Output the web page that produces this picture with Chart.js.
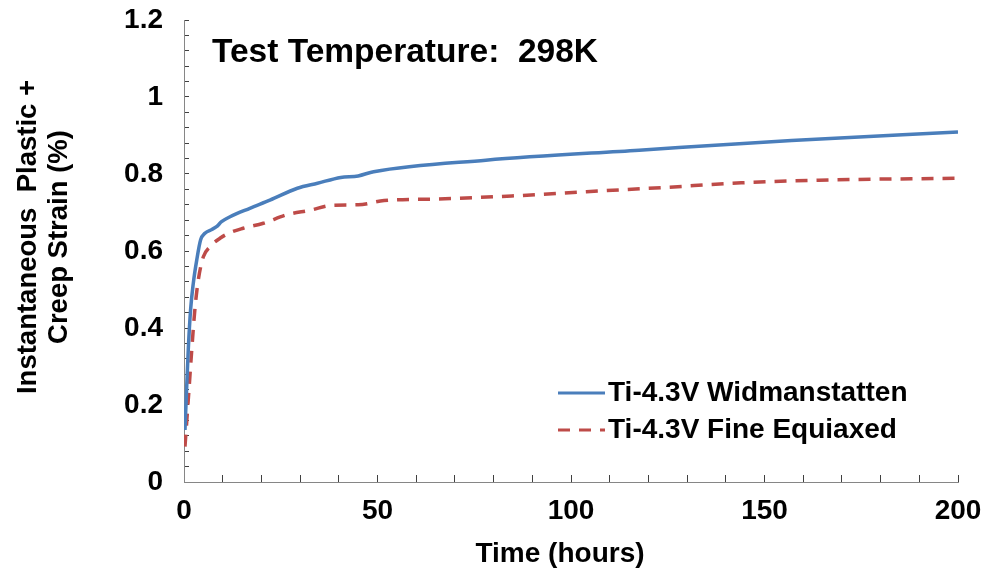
<!DOCTYPE html>
<html>
<head>
<meta charset="utf-8">
<script src="https://cdn.jsdelivr.net/npm/chart.js@4.4.1/dist/chart.umd.min.js"></script>
<style>
  html, body { margin: 0; padding: 0; background: #ffffff; }
  #wrap { width: 987px; height: 576px; }
</style>
</head>
<body>
<div id="wrap"><canvas id="creep" width="987" height="576"></canvas></div>
<script>
// ── DATA ──────────────────────────────────────────────────────
const widHours  = [0.25, 0.7, 1.1, 1.7, 2.4, 3.3, 4.3, 5.4, 7.2, 8.4, 9.7, 11.9, 17, 22.2, 29.3, 34.5, 40.5, 45, 49, 78, 117.6, 157, 200];
const widStrain = [0.135, 0.248, 0.343, 0.447, 0.516, 0.577, 0.629, 0.646, 0.656, 0.663, 0.676, 0.689, 0.711, 0.732, 0.763, 0.776, 0.791, 0.795, 0.806, 0.836, 0.862, 0.887, 0.909];

const eqxHours  = [0.25, 1.1, 2.0, 2.8, 3.7, 5.0, 6.7, 9.3, 11.5, 15.3, 20.5, 26.5, 32.6, 38.5, 45, 51.7, 64.9, 84.7, 104, 124, 144, 164, 200];
const eqxStrain = [0.092, 0.213, 0.343, 0.447, 0.525, 0.585, 0.611, 0.633, 0.646, 0.659, 0.672, 0.694, 0.706, 0.719, 0.72, 0.731, 0.735, 0.743, 0.754, 0.765, 0.777, 0.784, 0.789];

const seriesNames = ['Ti-4.3V Widmanstatten', 'Ti-4.3V Fine Equiaxed'];
const chartTitle  = 'Test Temperature:  298K';
const xTitle      = 'Time (hours)';
const yTitle      = ['Instantaneous  Plastic +', 'Creep Strain (%)'];

const FONT = '"Liberation Sans", Arial, sans-serif';
const BLUE = '#4A7EBB';
const RED  = '#BE4B48';

const pts = (xs, ys) => xs.map((x, i) => ({ x, y: ys[i] }));

// scales keep a fixed box and add no extra label padding
function fixBox(size, horizontal) {
  return s => {
    if (horizontal) s.height = size; else s.width = size;
    s.paddingTop = s.paddingBottom = s.paddingLeft = s.paddingRight = 0;
  };
}

// ── TEXT OVERLAY: title, axis titles, legend ──────────────────
const overlay = {
  id: 'overlay',
  afterDraw(chart) {
    const ctx = chart.ctx;
    ctx.save();
    ctx.fillStyle = '#000';
    ctx.textBaseline = 'middle';

    ctx.font = 'bold 33.5px ' + FONT;
    ctx.textAlign = 'left';
    ctx.fillText(chartTitle, 212, 53);

    ctx.font = 'bold 28px ' + FONT;
    ctx.textAlign = 'center';
    ctx.fillText(xTitle, 560, 554);

    ctx.save();
    ctx.translate(0, 237);
    ctx.rotate(-Math.PI / 2);
    ctx.font = 'bold 27.5px ' + FONT;
    ctx.fillText(yTitle[0], 0, 28);
    ctx.fillText(yTitle[1], 0, 59);
    ctx.restore();

    // legend
    const rows = [393, 430];
    chart.data.datasets.forEach((ds, i) => {
      ctx.save();
      ctx.strokeStyle = ds.borderColor;
      ctx.lineWidth = 3;
      ctx.setLineDash(ds.borderDash || []);
      ctx.beginPath();
      ctx.moveTo(558, rows[i]);
      ctx.lineTo(605, rows[i]);
      ctx.stroke();
      ctx.restore();
      ctx.font = 'bold 28px ' + FONT;
      ctx.textAlign = 'left';
      ctx.fillText(ds.label, 608, rows[i]);
    });
    ctx.restore();
  }
};

const tickFont = { family: FONT, size: 28, weight: 'bold' };

new Chart(document.getElementById('creep'), {
  type: 'line',
  data: {
    datasets: [
      {
        label: seriesNames[0],
        data: pts(widHours, widStrain),
        borderColor: BLUE,
        borderWidth: 3.5,
        pointRadius: 0,
        cubicInterpolationMode: 'monotone',
        fill: false
      },
      {
        label: seriesNames[1],
        data: pts(eqxHours, eqxStrain),
        borderColor: RED,
        borderWidth: 3.5,
        borderDash: [12, 9],
        pointRadius: 0,
        cubicInterpolationMode: 'monotone',
        fill: false
      }
    ]
  },
  options: {
    responsive: false,
    animation: false,
    devicePixelRatio: 1,
    layout: { padding: { top: 20, right: 29, left: 0, bottom: 0 } },
    plugins: {
      legend: { display: false },
      title: { display: false },
      tooltip: { enabled: false }
    },
    scales: {
      x: {
        type: 'linear',
        min: 0, max: 200,
        afterFit: fixBox(94, true),
        border: { color: '#868686', width: 1 },
        grid: { drawOnChartArea: false, drawTicks: true, tickLength: -7, color: '#404040' },
        ticks: {
          stepSize: 10,
          autoSkip: false,
          maxRotation: 0,
          padding: 19,
          color: '#000',
          font: tickFont,
          callback: v => (v % 50 === 0 ? String(v) : '')
        }
      },
      y: {
        type: 'linear',
        min: 0, max: 1.2,
        afterFit: fixBox(184, false),
        border: { color: '#868686', width: 1 },
        grid: { drawOnChartArea: false, drawTicks: true, tickLength: -5, color: '#404040' },
        ticks: {
          stepSize: 0.04,
          autoSkip: false,
          padding: 26,
          color: '#000',
          font: tickFont,
          callback: v => {
            const k = v / 0.2;
            return Math.abs(k - Math.round(k)) < 1e-6 ? String(+v.toFixed(1)) : '';
          }
        }
      }
    }
  },
  plugins: [overlay]
});
</script>
</body>
</html>
